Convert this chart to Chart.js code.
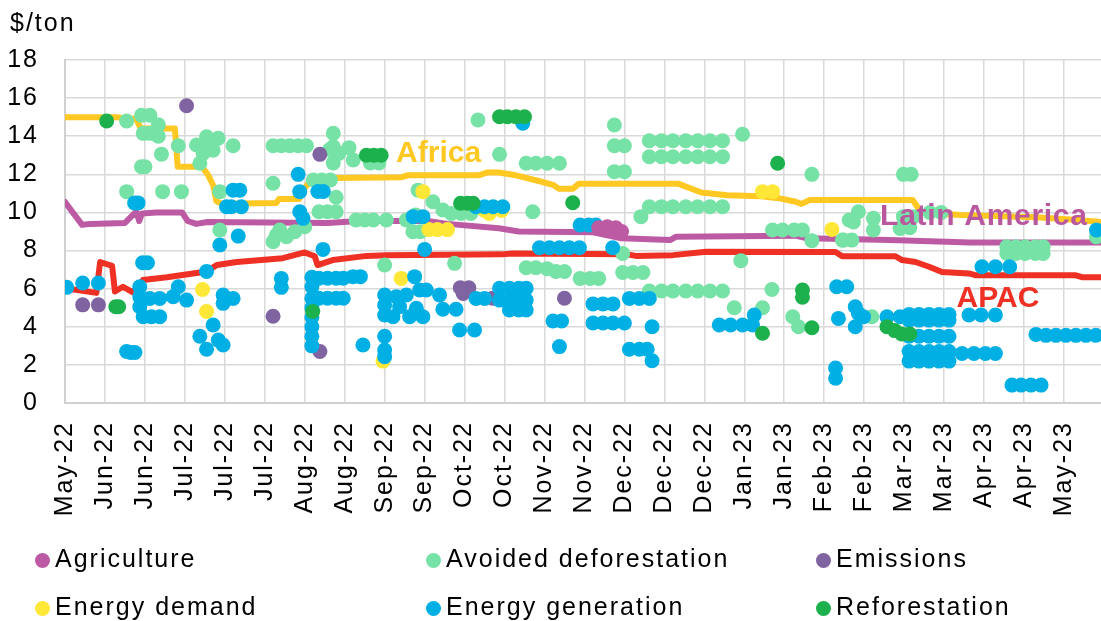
<!DOCTYPE html>
<html>
<head>
<meta charset="utf-8">
<script src="https://cdn.jsdelivr.net/npm/chart.js@4.4.1/dist/chart.umd.min.js"></script>
<style>
  body { margin: 0; background: #fff; }
  #wrap { position: relative; width: 1101px; height: 621px; overflow: hidden; }
  #unit, .legend-item {
    position: absolute;
    font: 25px/29px "Liberation Sans", Arial, sans-serif;
    letter-spacing: 2px;
    color: #000;
    white-space: nowrap;
  }
  #unit { left: 10px; top: 8px; }
  .legend-dot {
    position: absolute;
    width: 15px;
    height: 15px;
    border-radius: 50%;
  }
</style>
</head>
<body>
<div id="wrap">
  <canvas id="chart" width="1101" height="621"></canvas>
  <div id="unit">$/ton</div>
  <div id="legend"></div>
</div>
<script>
// x = days after 20 May 2022, y = $/ton

const tickLabels = ['May-22', 'Jun-22', 'Jun-22', 'Jul-22', 'Jul-22', 'Jul-22', 'Aug-22', 'Aug-22',
  'Sep-22', 'Sep-22', 'Oct-22', 'Oct-22', 'Nov-22', 'Nov-22', 'Dec-22', 'Dec-22', 'Dec-22',
  'Jan-23', 'Jan-23', 'Feb-23', 'Feb-23', 'Mar-23', 'Mar-23', 'Apr-23', 'Apr-23', 'May-23'];

const africa = [[0, 15.0], [18, 15.0], [21, 14.95], [25, 14.9], [26.5, 14.4], [38.5, 14.4], [39.5, 12.4],
  [48, 12.4], [50, 12.0], [52, 11.4], [53, 10.6], [55, 10.45], [74, 10.5], [75, 10.7], [82, 10.7],
  [84, 11.3], [87, 11.8], [118, 11.85], [120, 11.95], [145, 11.95], [148, 12.1], [152, 12.1],
  [158, 11.95], [166, 11.65], [171, 11.45], [173, 11.25], [178, 11.25], [180, 11.5], [215, 11.5],
  [223, 11.05], [232, 10.9], [244, 10.85], [250, 10.75], [256, 10.56], [258, 10.45], [261, 10.65],
  [297, 10.65], [300, 10.0], [314, 9.86], [340, 9.75], [355, 9.6], [363, 9.5]];

const latinAmerica = [[0, 10.55], [6, 9.35], [9, 9.4], [21, 9.45], [25, 10.05], [26, 9.55], [27, 9.95],
  [32, 10.0], [41, 10.0], [43, 9.55], [46, 9.4], [50, 9.5], [92, 9.45], [103, 9.55], [127, 9.55],
  [134, 9.4], [152, 9.17], [159, 9.0], [185, 8.96], [195, 8.64], [212, 8.55], [214, 8.72],
  [256, 8.78], [260, 8.64], [289, 8.55], [317, 8.42], [363, 8.42]];

const apac = [[0, 6.03], [11, 5.78], [12.3, 7.4], [16.5, 7.2], [17.5, 5.85], [20.3, 6.1], [23.8, 5.8],
  [27.3, 6.45], [35.7, 6.6], [49.7, 6.9], [53.2, 7.24], [60.2, 7.4], [76.3, 7.6], [84, 7.9],
  [87.5, 7.7], [88.5, 7.24], [93.8, 7.5], [105.7, 7.72], [112.7, 7.76], [153, 7.8], [157, 7.85],
  [197, 7.8], [200, 7.72], [213, 7.76], [224.7, 7.94], [270, 7.92], [272.3, 7.7], [291, 7.7],
  [293.3, 7.5], [298, 7.4], [302.75, 7.15], [307.3, 6.87], [316.75, 6.8], [319.2, 6.7],
  [354.2, 6.7], [356.3, 6.6], [363, 6.6]];

const agriculture = [[187, 9.2], [190, 9.25], [193, 9.2], [195, 9.0]];

const avoidedDeforestation = [[21.6, 14.8], [26.8, 15.1], [29.75, 15.1], [27.4, 14.15], [29.75, 14.15],
  [32, 14.15], [32.7, 14.6], [32.7, 14.0], [26.8, 12.4], [28, 12.4], [33.8, 13.06], [21.6, 11.09],
  [34.2, 11.09], [40.8, 11.09], [39.7, 13.5], [46.1, 13.54], [49.6, 13.97], [53.7, 13.89],
  [51.9, 13.27], [48.4, 13.1], [47.25, 12.58], [50.2, 13.54], [58.9, 13.5], [72.9, 11.53],
  [54.25, 11.09], [54.25, 9.08], [72.9, 13.5], [75.8, 13.5], [78.75, 13.5], [81.7, 13.5],
  [84.6, 13.5], [72.9, 8.46], [75.25, 9.08], [77.6, 8.73], [80.5, 8.99], [84, 9.25], [74, 8.8],
  [87, 11.7], [90, 11.7], [93, 11.7], [89, 10.04], [92, 10.04], [95, 10.04], [92.75, 13.3],
  [94, 14.15], [94, 13.45], [96, 13.1], [94, 12.6], [95, 10.8], [99.5, 13.4], [101, 12.75],
  [107, 12.6], [110, 12.6], [102, 9.6], [105, 9.6], [108, 9.6], [112.6, 9.6], [144.7, 14.85],
  [152.25, 13.05], [161.6, 12.58], [165, 12.58], [168.9, 12.58], [173.25, 12.58], [163.9, 10.04],
  [112, 7.24], [136.5, 7.33], [161.6, 7.1], [165, 7.1], [168.9, 7.05], [172, 6.9], [175, 6.9],
  [180.5, 6.54], [184, 6.54], [187, 6.54], [123.7, 11.17], [128.9, 10.56], [132.4, 10.13],
  [135.3, 9.95], [138.8, 9.95], [142.2, 9.95], [119.6, 9.6], [121.9, 8.99], [124.5, 8.99],
  [122.8, 9.86], [192.5, 14.59], [192.5, 13.5], [196, 13.5], [192.5, 12.14], [196, 12.14],
  [204.75, 13.76], [209, 13.76], [213, 13.76], [217.5, 13.76], [221.7, 13.76], [226, 13.76], [230.4, 13.76],
  [204.75, 12.92], [209, 12.92], [213, 12.92], [217.5, 12.92], [221.7, 12.92], [226, 12.92], [230.4, 12.92],
  [204.75, 10.3], [209, 10.3], [213, 10.3], [217.5, 10.3], [221.7, 10.3], [226, 10.3], [230.4, 10.3],
  [204.75, 5.88], [209, 5.88], [213, 5.88], [217.5, 5.88], [221.7, 5.88], [226, 5.88], [230.4, 5.88],
  [201.8, 9.78], [195.4, 6.85], [199, 6.85], [202.5, 6.85], [195.4, 7.85], [237.4, 14.1],
  [261.7, 12.0], [247.9, 9.08], [251.4, 9.08], [255.5, 9.08], [258.4, 9.08], [261.7, 8.52],
  [236.8, 7.47], [247.7, 5.96], [234.5, 5.0], [244.4, 5.0], [255, 4.53], [257, 4.0], [272.4, 8.55],
  [274.75, 9.6], [293.75, 12.0], [296.5, 12.0], [278, 10.04], [276.25, 9.5], [283.25, 9.69],
  [283.25, 9.08], [272.75, 8.55], [275.7, 8.55], [293.75, 9.78], [297.3, 9.78], [292.6, 9.16],
  [296, 9.2], [303, 10.0], [307, 10.0], [282.7, 4.53], [330, 8.2], [333.2, 8.2], [336.4, 8.2],
  [340, 8.2], [342.75, 8.2], [330, 7.85], [333.2, 7.85], [336.4, 7.85], [340, 7.85], [342.75, 7.85],
  [361.4, 8.72]];

const emissions = [[6.2, 5.15], [11.7, 5.15], [42.6, 15.6], [72.9, 4.55], [89.3, 13.05], [89.3, 2.7],
  [138.5, 6.05], [141.5, 6.05], [139.5, 5.75], [149.8, 5.5], [175, 5.5]];

const energyDemand = [[48.2, 5.96], [49.6, 4.8], [111.4, 2.2], [117.8, 6.54], [125.4, 11.09],
  [127.5, 9.1], [130.5, 9.1], [134, 9.1], [147, 10.1], [153, 10.1], [148.7, 9.95],
  [244.4, 11.09], [247.9, 11.09], [268.7, 9.11]];

const energyGeneration = [[0.6, 6.07], [6.2, 6.3], [11.7, 6.3], [24.4, 10.5], [25.6, 10.5],
  [21.6, 2.7], [23, 2.65], [24.5, 2.65], [27.2, 7.36], [28.9, 7.36], [26.2, 6.1], [26.2, 5.58],
  [26.2, 5.05], [27.4, 4.53], [30.3, 4.53], [29.7, 5.49], [33.2, 5.49], [33.2, 4.53], [37.9, 5.58],
  [39.7, 6.1], [42.6, 5.4], [49.6, 6.9], [55.4, 5.67], [55.4, 5.23], [58.9, 5.49], [51.9, 4.09],
  [47.25, 3.5], [49.6, 2.82], [53.7, 3.3], [55.4, 3.04], [54.25, 8.29], [60.7, 8.76], [58.9, 11.17],
  [61.25, 11.17], [56.6, 10.3], [58.3, 10.3], [61.8, 10.3], [75.8, 6.54], [75.8, 6.07], [81.7, 12.0],
  [82.25, 11.09], [82.25, 10.04], [83.4, 9.69], [88.6, 11.1], [90.5, 11.1], [90.4, 8.06],
  [86.5, 6.6], [86.5, 6.1], [86.5, 5.5], [86.5, 5.0], [86.5, 4.5], [86.5, 4.0], [86.5, 3.5], [86.5, 3.0],
  [89, 6.55], [92, 6.55], [95, 6.55], [97.5, 6.55], [89, 5.5], [92, 5.5], [95, 5.5], [97.5, 5.5],
  [100.9, 6.63], [103.5, 6.63], [104.4, 3.04], [112, 5.67], [112, 5.14], [112, 4.62], [112, 3.5],
  [112, 2.78], [112, 2.43], [116.1, 5.58], [119.6, 5.67], [117.25, 5.05], [114.9, 4.53],
  [120.75, 4.53], [123.1, 4.97], [125.4, 4.53], [124.25, 5.93], [122.5, 6.63], [126.6, 5.93],
  [122, 9.78], [125.4, 9.78], [126, 8.06], [131.25, 5.67], [132.4, 4.92], [137, 4.92],
  [138.25, 3.83], [143.5, 3.83], [144, 5.49], [147, 5.49], [144, 10.3], [147, 10.3], [150, 10.3],
  [153.4, 10.3], [160.4, 14.68], [152.25, 6.02], [155.7, 6.02], [159, 6.02], [161.6, 6.02],
  [152.25, 5.4], [155.7, 5.4], [159, 5.4], [161.6, 5.4], [155.7, 4.88], [159, 4.88], [161.6, 4.88],
  [171, 4.3], [174, 4.3], [173.25, 2.96], [166.25, 8.15], [169.75, 8.15], [173.25, 8.15],
  [176.75, 8.15], [180.25, 8.15], [180.5, 9.34], [183.5, 9.34], [186, 9.34], [191.9, 8.15],
  [185, 5.2], [188.5, 5.2], [192, 5.2], [185, 4.2], [188.5, 4.2], [192, 4.2], [196, 4.2],
  [197.75, 5.49], [201.25, 5.49], [204.75, 5.49], [205.7, 4.0], [197.75, 2.82], [201.25, 2.82],
  [204, 2.82], [205.7, 2.22], [229.25, 4.09], [233.2, 4.09], [237.4, 4.09], [240.9, 4.09],
  [241.5, 4.62], [270, 1.84], [270, 1.3], [270.4, 6.1], [273.9, 6.1], [271, 4.44], [276.9, 5.05],
  [279.8, 4.53], [276.9, 4.0], [278, 4.7], [288, 4.53], [292.6, 4.53],
  [295.75, 4.65], [299.25, 4.65], [302.75, 4.65], [306.25, 4.65], [309.75, 4.65],
  [295.75, 4.35], [299.25, 4.35], [302.75, 4.35], [306.25, 4.35], [309.75, 4.35],
  [295.75, 3.5], [299.25, 3.5], [302.75, 3.5], [306.25, 3.5], [309.75, 3.5],
  [295.75, 2.7], [299.25, 2.7], [302.75, 2.7], [306.25, 2.7], [309.75, 2.7],
  [295.75, 2.2], [299.25, 2.2], [302.75, 2.2], [306.25, 2.2], [309.75, 2.2],
  [316.75, 4.62], [321, 4.62], [326, 4.62], [314.3, 2.6], [318.5, 2.6], [322.5, 2.6], [326, 2.6],
  [321.3, 7.15], [326, 7.15], [331, 7.15], [331.8, 0.94], [335, 0.94], [338.5, 0.94], [342, 0.94],
  [340.2, 3.6], [343.7, 3.55], [347.2, 3.55], [350.7, 3.55], [354.2, 3.55], [357.7, 3.55],
  [361.2, 3.55], [361.4, 9.08]];

const reforestation = [[14.6, 14.8], [17.8, 5.05], [18.8, 5.05], [86.8, 4.8], [105.6, 13.0],
  [108.2, 13.0], [110.8, 13.0], [138.6, 10.48], [141, 10.48], [143, 10.48], [152.25, 15.02],
  [155, 15.02], [158, 15.02], [161, 15.02], [177.9, 10.51], [249.7, 12.58], [258.4, 5.93],
  [258.4, 5.55], [261.7, 3.95], [244.4, 3.66], [288, 4.0], [290.7, 3.8], [293.2, 3.62], [296, 3.62]];

const FONT = '"Liberation Sans", Arial, sans-serif';
const toXY = (pairs) => pairs.map(([x, y]) => ({ x, y }));

function lineSet(label, pairs, color) {
  return {
    type: 'line',
    label,
    data: toXY(pairs),
    borderColor: color,
    borderWidth: 6,
    borderJoinStyle: 'round',
    borderCapStyle: 'round',
    pointRadius: 0,
    tension: 0,
    fill: false,
    order: 10,
  };
}

function dotSet(label, pairs, color, order) {
  return {
    label,
    data: toXY(pairs),
    backgroundColor: color,
    borderColor: color,
    borderWidth: 0,
    pointRadius: 7.5,
    pointHoverRadius: 7.5,
    order,
  };
}

const dotSets = [
  dotSet('Agriculture', agriculture, '#BC5BA3', 0),
  dotSet('Avoided deforestation', avoidedDeforestation, '#77E2A6', 5),
  dotSet('Emissions', emissions, '#8064A2', 4),
  dotSet('Energy demand', energyDemand, '#FFE737', 3),
  dotSet('Energy generation', energyGeneration, '#00B0E4', 2),
  dotSet('Reforestation', reforestation, '#1DB14D', 1),
];

// region names written next to their lines
const regionText = {
  id: 'regionText',
  afterDatasetsDraw(chart) {
    const { ctx, scales } = chart;
    const items = [
      { text: 'Africa', x: 116, y: 12.65, color: '#FFC823', spacing: '0px' },
      { text: 'Latin America', x: 285.6, y: 9.34, color: '#B9579F', spacing: '0.7px' },
      { text: 'APAC', x: 312.4, y: 5.05, color: '#EE3124', spacing: '0px' },
    ];
    ctx.save();
    ctx.font = 'bold 30px ' + FONT;
    ctx.textAlign = 'left';
    ctx.textBaseline = 'alphabetic';
    items.forEach((it) => {
      ctx.letterSpacing = it.spacing;
      ctx.fillStyle = it.color;
      ctx.fillText(it.text, scales.x.getPixelForValue(it.x), scales.y.getPixelForValue(it.y));
    });
    ctx.restore();
  },
};

// axis text in the reference is slightly spaced out
const spacedText = {
  id: 'spacedText',
  beforeDraw(chart) {
    chart.ctx.letterSpacing = '2px';
  },
};

const gridOpts = { color: '#d9d9d9', lineWidth: 1.5, drawTicks: false };
const borderOpts = { color: '#d0d0d0', width: 2 };

const chart = new Chart(document.getElementById('chart').getContext('2d'), {
  type: 'scatter',
  data: {
    datasets: [
      ...dotSets,
      lineSet('Africa', africa, '#FFC823'),
      lineSet('Latin America', latinAmerica, '#BC5BA3'),
      lineSet('APAC', apac, '#EE3124'),
    ],
  },
  options: {
    responsive: false,
    animation: false,
    layout: { autoPadding: false, padding: { top: 60, bottom: 96, left: 0, right: 0 } },
    plugins: {
      legend: { display: false },
      tooltip: { enabled: false },
    },
    scales: {
      x: {
        type: 'linear',
        min: 0,
        max: 363,
        afterFit: (scale) => {
          scale.height = 122;
          scale.paddingLeft = 0;
          scale.paddingRight = 0;
        },
        grid: gridOpts,
        border: borderOpts,
        ticks: {
          stepSize: 14,
          includeBounds: false,
          autoSkip: false,
          minRotation: 90,
          maxRotation: 90,
          padding: 18,
          color: '#000',
          font: { family: FONT, size: 25 },
          callback: (v) => tickLabels[Math.round(v / 14)],
        },
      },
      y: {
        min: 0,
        max: 18,
        afterFit: (scale) => {
          scale.width = 65;
          scale.paddingTop = 0;
          scale.paddingBottom = 0;
        },
        grid: gridOpts,
        border: borderOpts,
        ticks: {
          stepSize: 2,
          padding: 26,
          color: '#000',
          font: { family: FONT, size: 25 },
        },
      },
    },
  },
  plugins: [spacedText, regionText],
});

// legend in three columns, two rows
const legend = document.getElementById('legend');
const colText = [55, 446, 836];
const rowTop = [544, 592];
chart.data.datasets.slice(0, dotSets.length).forEach((ds, i) => {
  const col = i % 3;
  const row = Math.floor(i / 3);
  const dot = document.createElement('div');
  dot.className = 'legend-dot';
  dot.style.left = (colText[col] - 20) + 'px';
  dot.style.top = (rowTop[row] + 9) + 'px';
  dot.style.background = ds.backgroundColor;
  const item = document.createElement('div');
  item.className = 'legend-item';
  item.style.left = colText[col] + 'px';
  item.style.top = rowTop[row] + 'px';
  item.textContent = ds.label;
  legend.appendChild(dot);
  legend.appendChild(item);
});
</script>
</body>
</html>
